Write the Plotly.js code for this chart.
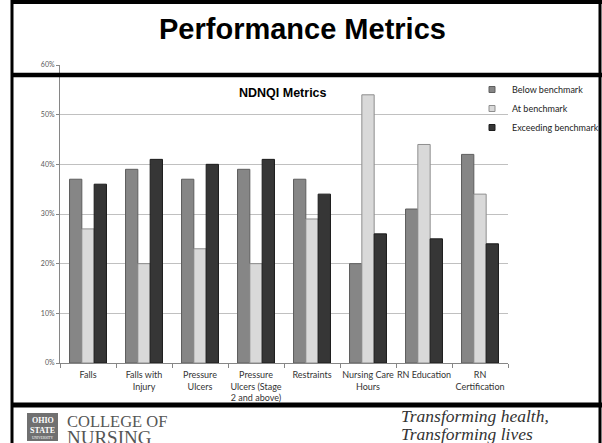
<!DOCTYPE html>
<html>
<head>
<meta charset="utf-8">
<script src="https://cdn.plot.ly/plotly-3.0.1.min.js"></script>
<style>html,body{margin:0;padding:0;background:#fff;}#chart{width:602px;height:443px;}</style>
</head>
<body>
<div id="chart"></div>
<script>
// ---- data ----
var categories = ["Falls", "Falls with<br>Injury", "Pressure<br>Ulcers", "Pressure<br>Ulcers (Stage<br>2 and above)", "Restraints", "Nursing Care<br>Hours", "RN Education", "RN<br>Certification"];
var seriesNames = ["Below benchmark", "At benchmark", "Exceeding benchmark"];
var belowValues = [0.37, 0.39, 0.37, 0.39, 0.37, 0.20, 0.31, 0.42];
var atValues = [0.27, 0.20, 0.23, 0.20, 0.29, 0.54, 0.44, 0.34];
var exceedValues = [0.36, 0.41, 0.40, 0.41, 0.34, 0.26, 0.25, 0.24];
var yTickVals = [0, 0.1, 0.2, 0.3, 0.4, 0.5, 0.6];
var yTickText = ["0%", "10%", "20%", "30%", "40%", "50%", "60%"];

// ---- layout helpers (pixel -> paper) ----
var W = 602, H = 443;
var L = 60, R = 508, T = 65, B = 363;
function px(x){ return (x - L) / (R - L); }
function py(y){ return (B - y) / (B - T); }

var fills = ["#868686", "#d9d9d9", "#363636"];
var edges = ["#5e5e5e", "#8e8e8e", "#1c1c1c"];
var vals = [belowValues, atValues, exceedValues];

var traces = vals.map(function(v, i){
  return {
    type: "bar",
    name: seriesNames[i],
    legendgroup: "g" + i,
    showlegend: false,
    x: categories,
    y: v,
    marker: {color: fills[i], line: {color: edges[i], width: 1}},
    hoverinfo: "none"
  };
});
// legend entries (small square keys like the reference)
vals.forEach(function(v, i){
  traces.push({
    type: "scatter", mode: "markers", name: seriesNames[i], legendgroup: "g" + i,
    x: [null], y: [null], showlegend: true,
    marker: {symbol: "square", size: 6, color: fills[i], line: {color: edges[i], width: 1}},
    hoverinfo: "none"
  });
});

function line(x0, y0, x1, y1, w, c){
  return {type: "line", xref: "paper", yref: "paper", x0: px(x0), y0: py(y0), x1: px(x1), y1: py(y1),
    line: {color: c || "#000", width: w}, layer: "above"};
}

var shapes = [
  line(11, 2, 602, 2, 4),
  line(12, 0, 12, 443, 3),
  line(600, 0, 600, 443, 3),
  line(11, 75, 602, 75, 4.5),
  line(11, 405, 602, 405, 5),
  {type: "rect", xref: "paper", yref: "paper", x0: px(27), x1: px(58), y0: py(413), y1: py(441),
   fillcolor: "#707070", line: {width: 0}, layer: "above"}
];

function ann(x, y, text, size, opts){
  var a = {xref: "paper", yref: "paper", x: px(x), y: py(y), text: text, showarrow: false,
    xanchor: "center", yanchor: "middle", font: {size: size, color: "#000", family: "Liberation Sans, Arial"}};
  for (var k in opts) a[k] = opts[k];
  return a;
}

var annotations = [
  ann(302, 29.5, "<b>Performance Metrics</b>", 29, {}),
  ann(283, 93, "<b>NDNQI Metrics</b>", 12.5, {}),
  ann(42.5, 420, "<b>OHIO</b>", 8, {font: {size: 8, color: "#fff", family: "Liberation Serif"}}),
  ann(42.5, 430, "<b>STATE</b>", 8, {font: {size: 8, color: "#fff", family: "Liberation Serif"}}),
  ann(42.5, 438, "UNIVERSITY", 3.5, {font: {size: 3.5, color: "#fff", family: "Liberation Serif"}}),
  ann(65, 421, "COLLEGE OF", 16.5, {xanchor: "left", font: {size: 16.5, color: "#555", family: "Liberation Serif"}}),
  ann(65, 437, "NURSING", 19, {xanchor: "left", font: {size: 19, color: "#555", family: "Liberation Serif"}}),
  ann(399, 415.5, "<i>Transforming health,</i>", 17.5, {xanchor: "left", font: {size: 17.5, color: "#333", family: "Liberation Serif"}}),
  ann(399, 433.5, "<i>Transforming lives</i>", 17.5, {xanchor: "left", font: {size: 17.5, color: "#333", family: "Liberation Serif"}})
];

var layout = {
  width: W, height: H,
  margin: {l: L, r: W - R, t: T, b: H - B, pad: 0, autoexpand: false},
  paper_bgcolor: "#fff", plot_bgcolor: "#fff",
  barmode: "group", bargap: 0.34, bargroupgap: 0,
  showlegend: true,
  legend: {x: px(472), y: py(75), xanchor: "left", yanchor: "top", bgcolor: "rgba(0,0,0,0)",
    font: {size: 9, family: "Lato, Open Sans", color: "#222"}, traceorder: "normal",
    itemsizing: "trace", tracegroupgap: 0},
  xaxis: {type: "category", showgrid: false, showline: true, linecolor: "#868686", linewidth: 1,
    ticks: "outside", tickson: "boundaries", ticklen: 4, tickcolor: "#868686", automargin: false,
    tickvals: categories, ticktext: categories, tickangle: 0, ticklabelstandoff: 3,
    tickfont: {size: 9, family: "Lato, Open Sans", color: "#333"}, fixedrange: true},
  yaxis: {range: [0, 0.6], tickvals: yTickVals, ticktext: yTickText, showgrid: true, gridcolor: "#c0c0c0",
    gridwidth: 1, zeroline: false, showline: true, linecolor: "#868686", linewidth: 1, automargin: false,
    ticks: "outside", ticklen: 3, tickcolor: "#868686",
    tickfont: {size: 7, family: "Lato, Open Sans", color: "#595959"}, fixedrange: true},
  shapes: shapes,
  annotations: annotations
};

Plotly.newPlot("chart", traces, layout, {displayModeBar: false, staticPlot: true});
</script>
</body>
</html>
